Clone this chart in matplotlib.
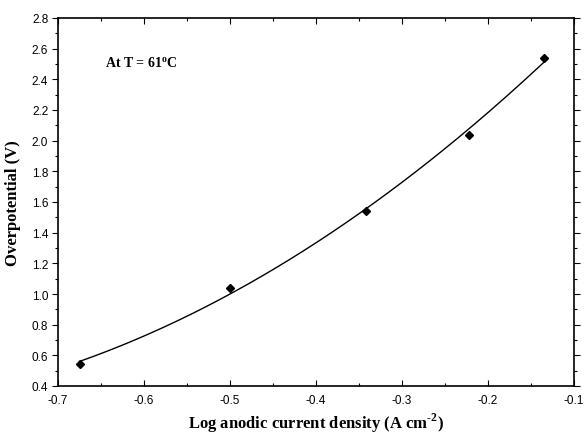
import numpy as np
import matplotlib
matplotlib.use("Agg")
import matplotlib.pyplot as plt
from matplotlib.ticker import MultipleLocator, FormatStrFormatter

x_vals = [-0.675, -0.500, -0.342, -0.222, -0.135]
y_vals = [0.545, 1.040, 1.540, 2.040, 2.540]

plt.rcParams['mathtext.fontset'] = 'custom'
plt.rcParams['mathtext.rm'] = 'Liberation Serif:bold'
plt.rcParams['mathtext.bf'] = 'Liberation Serif:bold'

fig = plt.figure(figsize=(5.84, 4.39), dpi=100)
ax = fig.add_axes([58/584, 52/439, 516/584, 368/439])

# quadratic fit of the data points
coef = np.polyfit(x_vals, y_vals, 2)
xf = np.linspace(min(x_vals), max(x_vals), 200)
ax.plot(xf, np.polyval(coef, xf), color='black', lw=1.0)
ax.plot(x_vals, y_vals, linestyle='none', marker='D', ms=4, color='black')

ax.set_xlim(-0.7, -0.1)
ax.set_ylim(0.4, 2.8)
ax.xaxis.set_major_locator(MultipleLocator(0.1))
ax.xaxis.set_minor_locator(MultipleLocator(0.05))
ax.yaxis.set_major_locator(MultipleLocator(0.2))
ax.yaxis.set_minor_locator(MultipleLocator(0.1))
ax.xaxis.set_major_formatter(FormatStrFormatter('%.1f'))
ax.yaxis.set_major_formatter(FormatStrFormatter('%.1f'))

for s in ax.spines.values():
    s.set_linewidth(1.2)
ax.tick_params(which='both', top=True, right=True, direction='in', labelsize=8.5, width=0.8)
ax.tick_params(which='major', length=4)
ax.tick_params(which='minor', length=2.5)
ax.tick_params(axis='x', which='both', pad=6)
ax.tick_params(axis='y', which='both', left=True, direction='out', pad=3)
ax.tick_params(axis='y', which='both', right=True)
for lab in ax.get_xticklabels() + ax.get_yticklabels():
    lab.set_fontfamily('Liberation Sans')

ax.set_xlabel(r'Log anodic current density (A cm$^{\text{-}2}$)', fontfamily='Liberation Serif',
              fontweight='bold', fontsize=12, labelpad=3)
ax.set_ylabel('Overpotential (V)', fontfamily='Liberation Serif', fontweight='bold', fontsize=12, labelpad=8)
ax.text(105/584, 1 - 64/439, r'At T = 61$^{\mathrm{o}}$C', transform=fig.transFigure,
        fontfamily='Liberation Serif', fontweight='bold', fontsize=10, va='center', ha='left')

fig.savefig('out.png', dpi=100)
